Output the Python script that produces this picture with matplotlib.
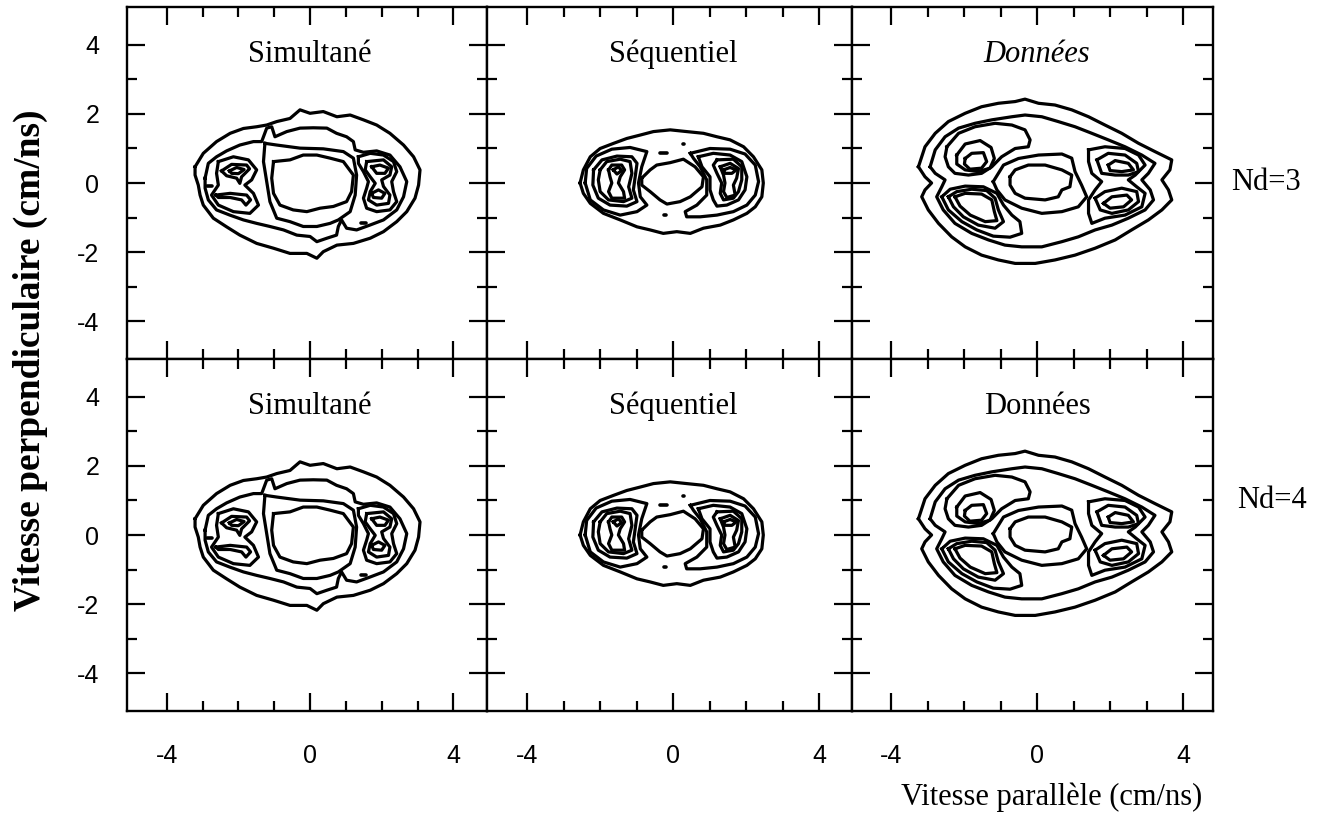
import matplotlib
matplotlib.use('Agg')
import matplotlib.pyplot as plt

# contour lines, (v_par, v_perp) in cm/ns
sim_outer = [(-3.21, 0.47), (-2.98, 0.86), (-2.61, 1.20), (-2.23, 1.44), (-1.86, 1.58), (-1.49, 1.63),
             (-1.21, 1.68), (-0.93, 1.78), (-0.56, 1.87), (-0.28, 2.12), (0.00, 2.02), (0.37, 2.07),
             (0.75, 1.92), (1.12, 1.97), (1.49, 1.83), (1.86, 1.68), (2.23, 1.44), (2.61, 1.10),
             (2.89, 0.76), (3.07, 0.38), (3.03, -0.06), (2.93, -0.44), (2.70, -0.83), (2.42, -1.12),
             (2.05, -1.41), (1.68, -1.60), (1.21, -1.75), (0.75, -1.80), (0.37, -1.99), (0.19, -2.18),
             (-0.09, -2.04), (-0.56, -2.04), (-1.02, -1.89), (-1.49, -1.75), (-1.96, -1.51), (-2.33, -1.27),
             (-2.70, -1.02), (-2.98, -0.64), (-3.07, -0.35), (-3.12, -0.06), (-3.21, 0.23)]
sim_ring = [(-2.93, 0.14), (-2.84, 0.57), (-2.61, 0.76), (-2.33, 0.93), (-1.96, 1.10), (-1.58, 1.20),
            (-1.35, 1.20), (-1.21, 1.59), (-1.07, 1.63), (-0.98, 1.34), (-0.65, 1.49), (-0.28, 1.59),
            (0.09, 1.60), (0.47, 1.59), (0.74, 1.44), (1.02, 1.34), (1.21, 1.20), (1.26, 0.96),
            (1.49, 0.89), (1.86, 0.93), (2.23, 0.81), (2.51, 0.47), (2.70, 0.04), (2.61, -0.40),
            (2.42, -0.78), (2.05, -1.07), (1.67, -1.22), (1.30, -1.36), (1.02, -1.31), (0.88, -1.07),
            (0.79, -1.26), (0.74, -1.51), (0.47, -1.60), (0.19, -1.70), (0.00, -1.55), (-0.37, -1.51),
            (-0.74, -1.36), (-1.12, -1.26), (-1.49, -1.17), (-1.86, -1.07), (-2.24, -0.93), (-2.61, -0.78),
            (-2.84, -0.49), (-2.93, -0.15)]
sim_left = [(-2.56, 0.62), (-2.14, 0.76), (-1.72, 0.67), (-1.49, 0.38), (-1.63, 0.09), (-1.82, -0.06),
            (-1.58, -0.30), (-1.44, -0.64), (-1.68, -0.88), (-2.14, -0.83), (-2.56, -0.64), (-2.75, -0.35),
            (-2.56, -0.06), (-2.61, 0.28)]
sim_left_up = [(-2.47, 0.35), (-2.19, 0.54), (-1.77, 0.52), (-1.69, 0.41), (-1.91, 0.18), (-1.96, -0.01),
               (-2.05, 0.14), (-2.33, 0.21)]
sim_left_up2 = [(-2.25, 0.35), (-2.05, 0.45), (-1.84, 0.39), (-2.00, 0.27), (-2.19, 0.28)]
sim_left_low = [(-2.63, -0.35), (-2.23, -0.30), (-1.77, -0.35), (-1.66, -0.49), (-1.79, -0.64),
                (-1.91, -0.49), (-2.23, -0.42), (-2.56, -0.42)]
sim_right = [(1.35, 0.76), (1.68, 0.86), (2.05, 0.81), (2.33, 0.62), (2.42, 0.33), (2.28, 0.04),
             (2.33, -0.25), (2.42, -0.54), (2.23, -0.78), (1.86, -0.83), (1.58, -0.73), (1.49, -0.44),
             (1.58, -0.15), (1.63, 0.04), (1.49, 0.33), (1.35, 0.57)]
sim_right_mid = [(1.58, 0.62), (2.05, 0.67), (2.28, 0.47), (2.23, 0.23), (2.00, 0.09), (2.05, -0.10),
                 (2.23, -0.35), (2.19, -0.59), (1.86, -0.64), (1.63, -0.49), (1.68, -0.25), (1.82, -0.01),
                 (1.68, 0.18), (1.54, 0.38)]
sim_right_up = [(1.72, 0.47), (1.95, 0.52), (2.19, 0.43), (2.09, 0.28), (1.86, 0.28)]
sim_right_low = [(1.72, -0.30), (1.91, -0.20), (2.09, -0.30), (2.00, -0.44), (1.77, -0.42)]
sim_center = [(-1.26, 1.15), (-0.93, 1.10), (-0.28, 1.01), (0.37, 0.99), (0.93, 0.91), (1.21, 0.72),
              (1.30, 0.23), (1.26, -0.35), (1.12, -0.83), (0.79, -1.07), (0.56, -1.17), (0.19, -1.26),
              (-0.19, -1.26), (-0.56, -1.12), (-0.93, -1.02), (-1.12, -0.54), (-1.21, 0.04), (-1.30, 0.62)]
sim_hole = [(-1.02, 0.62), (-0.56, 0.67), (-0.19, 0.81), (0.19, 0.81), (0.56, 0.72), (0.93, 0.62),
            (1.21, 0.23), (1.16, -0.25), (1.02, -0.54), (0.65, -0.68), (0.28, -0.73), (-0.09, -0.83),
            (-0.47, -0.78), (-0.84, -0.64), (-1.02, -0.30), (-1.07, 0.14)]
sim_dashes = [[(-2.87, -0.08), (-2.75, -0.08)], [(1.42, -1.17), (1.56, -1.17)]]

seq_outer = [(-2.55, 0.00), (-2.46, 0.38), (-2.27, 0.76), (-2.00, 1.00), (-1.63, 1.15), (-1.27, 1.29),
             (-0.90, 1.39), (-0.54, 1.49), (-0.08, 1.54), (0.37, 1.49), (0.83, 1.44), (1.20, 1.34),
             (1.56, 1.25), (1.93, 1.05), (2.20, 0.76), (2.43, 0.38), (2.47, 0.00), (2.43, -0.40),
             (2.25, -0.69), (2.02, -0.88), (1.65, -1.07), (1.29, -1.22), (0.83, -1.31), (0.47, -1.46),
             (0.10, -1.41), (-0.27, -1.46), (-0.63, -1.36), (-0.99, -1.27), (-1.45, -1.07), (-1.91, -0.88),
             (-2.27, -0.59), (-2.46, -0.30)]
seq_left1 = [(-2.41, 0.00), (-2.37, 0.42), (-2.11, 0.78), (-1.68, 0.98), (-1.18, 1.03), (-0.72, 0.91),
             (-0.86, 0.47), (-0.95, 0.00), (-0.90, -0.40), (-0.72, -0.64), (-0.99, -0.83), (-1.45, -0.93),
             (-1.91, -0.78), (-2.27, -0.49)]
seq_left2 = [(-2.18, 0.38), (-1.95, 0.67), (-1.54, 0.78), (-1.13, 0.76), (-0.99, 0.57), (-1.04, 0.18),
             (-1.09, -0.20), (-0.99, -0.54), (-1.27, -0.67), (-1.73, -0.64), (-2.05, -0.44), (-2.20, -0.06)]
seq_left3 = [(-2.00, 0.38), (-1.82, 0.62), (-1.45, 0.69), (-1.18, 0.62), (-1.13, 0.28), (-1.22, -0.11),
             (-1.13, -0.44), (-1.36, -0.54), (-1.77, -0.49), (-2.00, -0.25), (-2.05, 0.09)]
seq_left4 = [(-1.77, 0.38), (-1.68, 0.52), (-1.41, 0.52), (-1.33, 0.38), (-1.45, 0.18), (-1.50, 0.00),
             (-1.36, -0.25), (-1.33, -0.44), (-1.68, -0.44), (-1.77, -0.25), (-1.68, 0.00), (-1.73, 0.18)]
seq_left5 = [(-1.64, 0.38), (-1.50, 0.47), (-1.41, 0.36), (-1.54, 0.26)]
seq_right1 = [(0.47, 0.86), (1.01, 1.00), (1.56, 0.98), (1.97, 0.84), (2.25, 0.52), (2.34, 0.04),
              (2.25, -0.35), (2.02, -0.64), (1.65, -0.83), (1.20, -0.93), (0.74, -0.98), (0.37, -0.98),
              (0.33, -0.83), (0.65, -0.64), (0.92, -0.35), (0.92, 0.09), (0.74, 0.47), (0.56, 0.71)]
seq_right2 = [(0.69, 0.76), (1.10, 0.86), (1.56, 0.81), (1.88, 0.62), (2.02, 0.18), (1.97, -0.20),
              (1.79, -0.49), (1.47, -0.64), (1.20, -0.67), (1.10, -0.49), (1.01, -0.20), (1.01, 0.18),
              (0.79, 0.47)]
seq_right3 = [(1.20, 0.67), (1.65, 0.69), (1.88, 0.47), (1.88, 0.09), (1.79, -0.25), (1.65, -0.44),
              (1.38, -0.49), (1.29, -0.30), (1.33, 0.00), (1.20, 0.28), (1.10, 0.52)]
seq_right4 = [(1.29, 0.47), (1.56, 0.57), (1.79, 0.42), (1.74, 0.14), (1.65, -0.06), (1.70, -0.35),
              (1.47, -0.42), (1.38, -0.25), (1.42, 0.00), (1.38, 0.23)]
seq_right5 = [(1.38, 0.38), (1.56, 0.45), (1.73, 0.38), (1.61, 0.28), (1.42, 0.28)]
seq_hole = [(-0.86, 0.14), (-0.63, 0.38), (-0.45, 0.52), (-0.08, 0.59), (0.28, 0.69), (0.60, 0.47),
            (0.83, 0.18), (0.79, -0.11), (0.47, -0.40), (0.19, -0.54), (-0.17, -0.61), (-0.36, -0.49),
            (-0.63, -0.25), (-0.86, -0.06)]
seq_dashes = [[(-0.36, 0.88), (-0.17, 0.88)], [(0.26, 1.13), (0.30, 1.13)], [(-0.24, -0.93), (-0.20, -0.93)]]

don_outer = [(-3.25, 0.47), (-3.07, 1.05), (-2.79, 1.44), (-2.43, 1.78), (-1.97, 2.02), (-1.52, 2.21),
             (-1.06, 2.31), (-0.60, 2.36), (-0.33, 2.43), (0.04, 2.31), (0.49, 2.26), (0.95, 2.12),
             (1.41, 1.92), (1.86, 1.68), (2.32, 1.44), (2.78, 1.15), (3.23, 0.91), (3.69, 0.67),
             (3.64, 0.38), (3.42, 0.09), (3.60, -0.20), (3.69, -0.49), (3.42, -0.78), (3.05, -1.07),
             (2.59, -1.36), (2.14, -1.65), (1.59, -1.89), (1.04, -2.09), (0.49, -2.23), (-0.05, -2.33),
             (-0.60, -2.33), (-1.06, -2.23), (-1.52, -2.09), (-1.97, -1.85), (-2.34, -1.56), (-2.70, -1.17),
             (-2.98, -0.78), (-3.16, -0.40), (-3.07, -0.20), (-2.89, 0.00), (-3.07, 0.18)]
don_ring = [(-2.93, 0.47), (-2.79, 0.96), (-2.52, 1.34), (-2.15, 1.59), (-1.70, 1.73), (-1.24, 1.83),
            (-0.69, 1.92), (-0.33, 1.97), (0.13, 1.92), (0.58, 1.78), (1.04, 1.63), (1.50, 1.44),
            (1.95, 1.25), (2.41, 1.05), (2.87, 0.81), (3.23, 0.57), (3.05, 0.28), (2.87, 0.09),
            (3.10, -0.20), (3.19, -0.49), (2.96, -0.78), (2.50, -1.02), (2.05, -1.22), (1.59, -1.36),
            (1.13, -1.56), (0.68, -1.70), (0.13, -1.85), (-0.42, -1.85), (-0.88, -1.80), (-1.33, -1.65),
            (-1.79, -1.46), (-2.25, -1.17), (-2.57, -0.78), (-2.75, -0.40), (-2.61, -0.11), (-2.52, 0.09),
            (-2.79, 0.28)]
don_upleft1 = [(-2.47, 1.05), (-2.15, 1.44), (-1.70, 1.63), (-1.15, 1.73), (-0.69, 1.68), (-0.33, 1.54),
               (-0.19, 1.25), (-0.24, 1.05), (-0.60, 1.00), (-0.97, 0.76), (-1.24, 0.47), (-1.52, 0.28),
               (-1.88, 0.23), (-2.25, 0.28), (-2.43, 0.47), (-2.52, 0.76)]
don_upleft2 = [(-2.20, 0.81), (-1.97, 1.13), (-1.56, 1.23), (-1.26, 1.03), (-1.17, 0.71), (-1.29, 0.43),
               (-1.61, 0.33), (-1.97, 0.38), (-2.20, 0.55)]
don_upleft3 = [(-1.97, 0.71), (-1.79, 0.86), (-1.47, 0.88), (-1.38, 0.62), (-1.52, 0.43), (-1.84, 0.40),
               (-1.99, 0.55)]
don_lowleft1 = [(-2.61, -0.40), (-2.38, -0.18), (-1.97, -0.09), (-1.47, -0.11), (-1.10, -0.30),
                (-0.92, -0.64), (-0.69, -0.93), (-0.47, -1.12), (-0.42, -1.46), (-0.74, -1.57),
                (-1.20, -1.54), (-1.65, -1.36), (-2.06, -1.12), (-2.43, -0.78)]
don_lowleft2 = [(-2.43, -0.40), (-2.20, -0.25), (-1.79, -0.18), (-1.38, -0.22), (-1.15, -0.44),
                (-1.06, -0.78), (-0.92, -1.12), (-1.15, -1.31), (-1.61, -1.22), (-2.02, -0.98), (-2.29, -0.69)]
don_lowleft3 = [(-2.25, -0.40), (-1.97, -0.30), (-1.52, -0.32), (-1.24, -0.49), (-1.17, -0.83),
                (-1.10, -1.09), (-1.42, -1.12), (-1.83, -0.93), (-2.11, -0.67)]
don_center1 = [(-1.20, 0.04), (-0.92, 0.52), (-0.51, 0.71), (0.04, 0.81), (0.68, 0.84), (0.95, 0.72),
               (1.04, 0.33), (1.22, -0.06), (1.36, -0.40), (1.13, -0.69), (0.68, -0.83), (0.13, -0.88),
               (-0.42, -0.73), (-0.88, -0.49), (-1.10, -0.20)]
don_center2 = [(-0.74, 0.18), (-0.60, 0.38), (-0.24, 0.52), (0.22, 0.52), (0.68, 0.38), (0.95, 0.23),
               (0.90, -0.11), (0.68, -0.20), (0.58, -0.40), (0.22, -0.49), (-0.33, -0.44), (-0.60, -0.30),
               (-0.74, -0.06)]
don_right1 = [(1.41, 0.96), (1.86, 1.05), (2.41, 1.00), (2.78, 0.81), (2.96, 0.52), (2.69, 0.23),
              (2.50, 0.09), (2.73, -0.11), (2.96, -0.30), (2.87, -0.69), (2.41, -0.93), (1.86, -1.02),
              (1.50, -1.17), (1.41, -0.88), (1.41, -0.49), (1.59, -0.20), (1.77, 0.04), (1.50, 0.28),
              (1.41, 0.62)]
don_right_up1 = [(1.64, 0.67), (1.95, 0.86), (2.41, 0.81), (2.73, 0.57), (2.78, 0.33), (2.50, 0.23),
                 (2.14, 0.23), (1.77, 0.28)]
don_right_up2 = [(1.95, 0.52), (2.14, 0.65), (2.50, 0.57), (2.64, 0.38), (2.32, 0.33), (2.00, 0.36)]
don_right_low1 = [(1.59, -0.44), (1.86, -0.25), (2.32, -0.15), (2.73, -0.25), (2.78, -0.54), (2.50, -0.78),
                  (2.05, -0.88), (1.73, -0.78)]
don_right_low2 = [(1.82, -0.59), (2.05, -0.40), (2.46, -0.35), (2.59, -0.49), (2.37, -0.69), (2.00, -0.73)]

sim_curves = [sim_outer, sim_ring, sim_left, sim_left_up, sim_left_up2, sim_left_low, sim_right,
              sim_right_mid, sim_right_up, sim_right_low, sim_center, sim_hole]
seq_curves = [seq_outer, seq_left1, seq_left2, seq_left3, seq_left4, seq_left5, seq_right1, seq_right2,
              seq_right3, seq_right4, seq_right5, seq_hole]
don_curves = [don_outer, don_ring, don_upleft1, don_upleft2, don_upleft3, don_lowleft1, don_lowleft2,
              don_lowleft3, don_center1, don_center2, don_right1, don_right_up1, don_right_up2,
              don_right_low1, don_right_low2]

titles = ['Simultané', 'Séquentiel', 'Données']
row_labels = ['Nd=3', 'Nd=4']
x_ticks = [-4, 0, 4]
x_tick_labels = ['-4', '0', '4']
y_ticks = [-4, -2, 0, 2, 4]
y_tick_labels = ['-4', '-2', '0', '2', '4']

W, H = 1343, 822
col_left = [127, 487, 852]
col_width = [360, 365, 361]
col_xlim = [(-5.11, 4.94), (-5.10, 4.90), (-5.07, 4.82)]
row_top = [7, 359]
row_h = 352

fig = plt.figure(figsize=(W / 100, H / 100), dpi=100)
serif = 'Liberation Serif'
sans = 'Liberation Sans'

panels = [(sim_curves, sim_dashes), (seq_curves, seq_dashes), (don_curves, [])]

for r in range(2):
    for c in range(3):
        ax = fig.add_axes([col_left[c] / W, 1 - (row_top[r] + row_h) / H, col_width[c] / W, row_h / H])
        curves, dashes = panels[c]
        for cv in curves:
            xs = [p[0] for p in cv] + [cv[0][0]]
            ys = [p[1] for p in cv] + [cv[0][1]]
            ax.plot(xs, ys, color='black', lw=2.3, solid_joinstyle='round')
        for d in dashes:
            ax.plot([p[0] for p in d], [p[1] for p in d], color='black', lw=2.6, solid_capstyle='round')
        ax.set_xlim(*col_xlim[c])
        ax.set_ylim(-5.1, 5.1)
        ax.set_xticks(x_ticks)
        ax.set_xticks([-3, -2, -1, 1, 2, 3], minor=True)
        ax.set_yticks(y_ticks)
        ax.set_yticks([-3, -1, 1, 3], minor=True)
        ax.tick_params(which='both', direction='in', top=True, right=True, width=1.6, color='black')
        ax.tick_params(which='major', length=13)
        ax.tick_params(which='minor', length=7)
        if r == 1:
            ax.set_xticklabels(x_tick_labels, fontsize=18, family=sans)
            ax.tick_params(axis='x', pad=24)
        else:
            ax.set_xticklabels([])
        if c == 0:
            ax.set_yticklabels(y_tick_labels, fontsize=18, family=sans)
            ax.tick_params(axis='y', pad=20)
        else:
            ax.set_yticklabels([])
        for s in ax.spines.values():
            s.set_linewidth(1.7)
        style = 'italic' if (c == 2 and r == 0) else 'normal'
        ax.text(0, 3.72, titles[c], ha='center', va='center', fontsize=22, family=serif, style=style)

fig.text(1266 / W, 1 - 183 / H, row_labels[0], ha='center', va='center', fontsize=22, family=serif)
fig.text(1272 / W, 1 - 500 / H, row_labels[1], ha='center', va='center', fontsize=22, family=serif)
fig.text(30 / W, 1 - 360 / H, 'Vitesse perpendiculaire (cm/ns)', rotation=90, ha='center', va='center',
         fontsize=27, family=serif, weight='bold')
fig.text(1052 / W, 1 - 797 / H, 'Vitesse parallèle (cm/ns)', ha='center', va='center',
         fontsize=22, family=serif)

fig.savefig('out.png', dpi=100)
